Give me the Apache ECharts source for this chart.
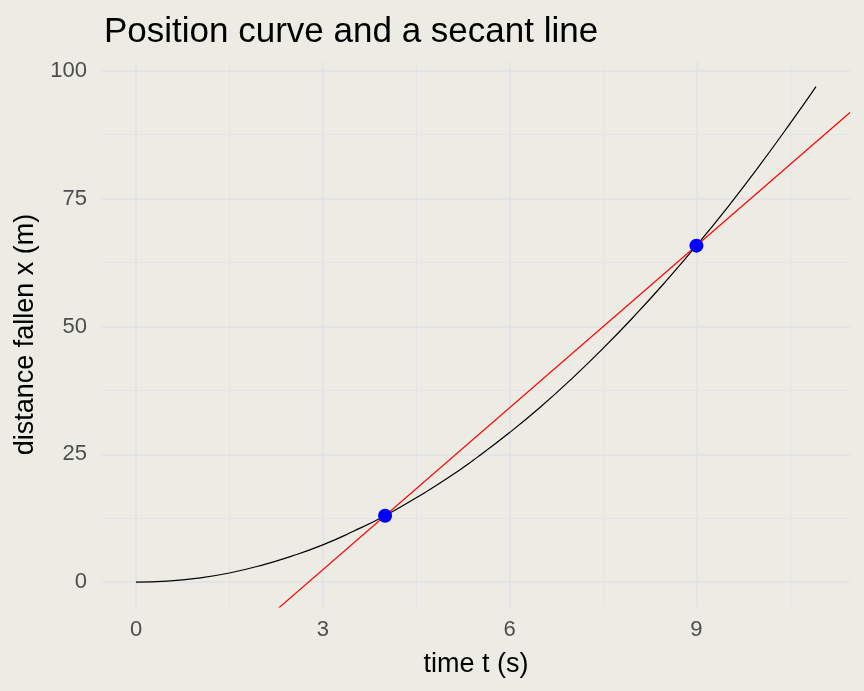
<!DOCTYPE html>
<html>
<head>
<meta charset="utf-8">
<script src="https://cdn.jsdelivr.net/npm/echarts@6/dist/echarts.min.js"></script>
<style>
  html, body { margin: 0; padding: 0; background: #ECECE4; }
  #main { width: 864px; height: 691px; }
</style>
</head>
<body>
<div id="main"></div>
<script>
// position curve (time in s, distance in m)
var curveT = [0, 0.5, 1, 1.5, 2, 2.5, 3, 3.5, 4, 4.5, 5, 5.5, 6, 6.5, 7, 7.5, 8, 8.5, 9, 9.5, 10, 10.5, 10.92];
var curveX = [0, 0.2, 0.8, 1.8, 3.25, 5.1, 7.3, 10, 13, 16.5, 20.3, 24.6, 29.25, 34.3, 39.8, 45.7, 52, 58.7, 65.8, 73.3, 81.25, 89.6, 96.9];
// the two points the secant goes through
var secantT = [4, 9];
var secantX = [13, 65.8];
// ticks
var xTicks = [0, 3, 6, 9];
var xMinor = [1.5, 4.5, 7.5, 10.5];
var yTicks = [0, 25, 50, 75, 100];
var yMinor = [12.5, 37.5, 62.5, 87.5];

var xMin = -0.546, xMax = 11.466;
var yMin = -4.85, yMax = 101.7;

var FONT = 'Liberation Sans, Arial, Helvetica, sans-serif';
var gridCol = '#E4E4E8';

var chart = echarts.init(document.getElementById('main'));

function pairs(a, b) {
    var out = [];
    for (var i = 0; i < a.length; i++) out.push([a[i], b[i]]);
    return out;
}

// secant line spans whole panel (like abline)
var slope = (secantX[1] - secantX[0]) / (secantT[1] - secantT[0]);
var secLine = [
    [xMin, secantX[0] + slope * (xMin - secantT[0])],
    [xMax, secantX[0] + slope * (xMax - secantT[0])]
];

// extra axis only used for the minor grid lines
function minorAxis(vals, isX) {
    return {
        type: 'value', min: isX ? xMin : yMin, max: isX ? xMax : yMax,
        position: isX ? 'bottom' : 'left',
        axisLine: {show: false},
        axisTick: {show: false, customValues: vals},
        axisLabel: {show: false, customValues: vals},
        splitLine: {show: true, lineStyle: {color: gridCol, width: 1.2}}
    };
}

var option = {
    backgroundColor: '#ECECE4',
    animation: false,
    title: {
        text: 'Position curve and a secant line',
        left: 99,
        top: 10,
        textStyle: {fontFamily: FONT, fontSize: 35, fontWeight: 'normal', color: '#000'}
    },
    grid: {left: 102, right: 14, top: 62, bottom: 84},
    xAxis: [{
        type: 'value', min: xMin, max: xMax,
        name: 'time t (s)', nameLocation: 'middle', nameGap: 44,
        nameTextStyle: {fontFamily: FONT, fontSize: 27, color: '#000'},
        axisLine: {show: false},
        axisTick: {show: false, customValues: xTicks},
        axisLabel: {customValues: xTicks, margin: 12, fontFamily: FONT, fontSize: 22, color: '#4D4D4D'},
        splitLine: {show: true, lineStyle: {color: gridCol, width: 2}}
    }, minorAxis(xMinor, true)],
    yAxis: [{
        type: 'value', min: yMin, max: yMax,
        name: 'distance fallen x (m)', nameLocation: 'middle', nameGap: 55,
        nameTextStyle: {fontFamily: FONT, fontSize: 27, color: '#000'},
        axisLine: {show: false},
        axisTick: {show: false, customValues: yTicks},
        axisLabel: {customValues: yTicks, margin: 15, fontFamily: FONT, fontSize: 22, color: '#4D4D4D'},
        splitLine: {show: true, lineStyle: {color: gridCol, width: 2}}
    }, minorAxis(yMinor, false)],
    series: [{
        type: 'line',
        data: pairs(curveT, curveX),
        smooth: true,
        showSymbol: false,
        lineStyle: {color: '#000', width: 1.2},
        z: 3
    }, {
        type: 'line',
        data: secLine,
        clip: true,
        showSymbol: false,
        lineStyle: {color: '#FF0000', width: 1.2},
        z: 2
    }, {
        type: 'scatter',
        data: pairs(secantT, secantX),
        symbolSize: 14,
        itemStyle: {color: '#0000FF', opacity: 1},
        z: 4
    }]
};

chart.setOption(option);
</script>
</body>
</html>
